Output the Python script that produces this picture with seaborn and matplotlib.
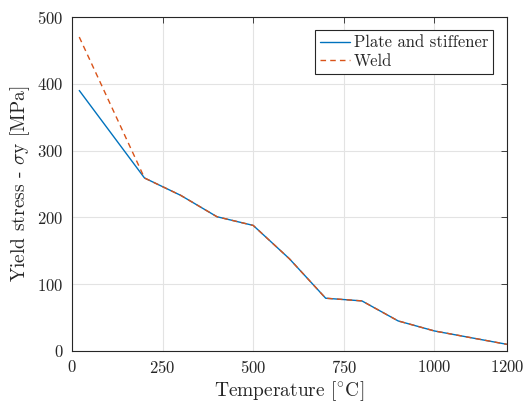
import pandas as pd
import matplotlib
matplotlib.use("Agg")
import matplotlib.pyplot as plt
import seaborn as sns

# temperature steps [C]
temperature = [20, 200, 300, 400, 500, 600, 700, 800, 900, 1000, 1100, 1200]
# yield stress [MPa]
plate_stress = [390, 259, 233, 201, 188, 138, 79, 75, 45, 30, 20, 10]
weld_stress = [470, 259, 233, 201, 188, 138, 79, 75, 45, 30, 20, 10]

x_ticks = [0, 250, 500, 750, 1000, 1200]
y_ticks = [0, 100, 200, 300, 400, 500]

sns.set_style("whitegrid")
plt.rcParams["font.family"] = "serif"
plt.rcParams["font.serif"] = ["cmr10", "DejaVu Serif"]
plt.rcParams["mathtext.fontset"] = "cm"
plt.rcParams["axes.formatter.use_mathtext"] = True

df = pd.DataFrame({"temp": temperature, "plate": plate_stress, "weld": weld_stress})

fig = plt.figure(figsize=(5.28, 4.07), dpi=100)
ax = fig.add_axes([0.1364, 0.1376, 0.8236, 0.8206])

sns.lineplot(data=df, x="temp", y="plate", ax=ax, color="#0072BD", lw=1.0,
             label="Plate and stiffener")
sns.lineplot(data=df, x="temp", y="weld", ax=ax, color="#D95319", lw=1.0,
             linestyle=(0, (4, 3)), label="Weld")

ax.set_xlim(0, 1200)
ax.set_ylim(0, 500)
ax.set_xticks(x_ticks)
ax.set_yticks(y_ticks)
ax.grid(True, color="#e3e3e3", lw=0.8)
for s in ax.spines.values():
    s.set_color("#262626")
    s.set_linewidth(0.8)
ax.tick_params(direction="in", length=4, width=0.6, color="#262626",
               top=True, right=True, labelsize=12, labelcolor="#262626", pad=6)

ax.set_xlabel(r"Temperature [$^{\circ}$C]", fontsize=14, color="#262626", labelpad=2)
ax.set_ylabel(r"Yield stress - $\sigma$y [MPa]", fontsize=14, color="#262626", labelpad=4)

leg = ax.legend(loc="upper right", fontsize=12, frameon=True, fancybox=False,
                edgecolor="#262626", framealpha=1, borderpad=0.3,
                handlelength=1.8, handletextpad=0.2, labelspacing=0.2,
                borderaxespad=0, bbox_to_anchor=(0.968, 0.961))
leg.get_frame().set_linewidth(0.8)

fig.savefig("out.png", dpi=100)
